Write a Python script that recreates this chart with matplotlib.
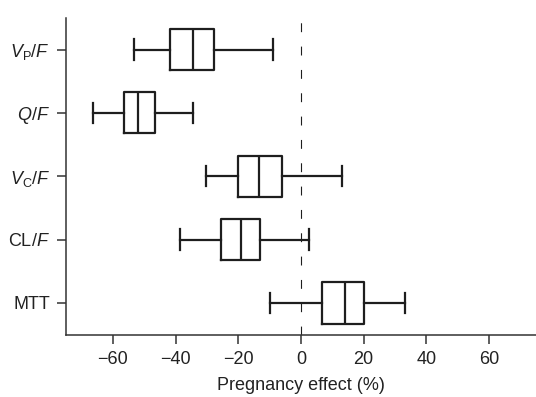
import matplotlib
matplotlib.use("Agg")
import matplotlib.pyplot as plt

plt.rcParams['font.family'] = ['Liberation Sans', 'DejaVu Sans']
plt.rcParams['mathtext.fontset'] = 'custom'
plt.rcParams['mathtext.rm'] = 'Liberation Sans'
plt.rcParams['mathtext.it'] = 'Liberation Sans:italic'
plt.rcParams['mathtext.bf'] = 'Liberation Sans:bold'

labels = [r'$V_{\mathrm{P}}/F$', r'$Q/F$', r'$V_{\mathrm{C}}/F$', r'CL/$F$', 'MTT']
whislo = [-53.3, -66.5, -30.2, -38.6, -9.8]
q1 = [-41.8, -56.4, -20.2, -25.4, 6.7]
med = [-34.6, -52.0, -13.3, -19.0, 14.1]
q3 = [-27.8, -46.6, -6.0, -13.1, 20.0]
whishi = [-9.0, -34.6, 13.0, 2.7, 33.3]
xticks = [-60, -40, -20, 0, 20, 40, 60]

fig = plt.figure(figsize=(5.36, 3.97), dpi=100)
ax = fig.add_axes([0.123, 0.157, 0.877, 0.798])

n = len(labels)
positions = list(range(n, 0, -1))
stats = []
for i in range(n):
    stats.append(dict(label=labels[i], whislo=whislo[i], q1=q1[i], med=med[i],
                      q3=q3[i], whishi=whishi[i], fliers=[]))

lw = 1.6
col = '#1e1e1e'
ax.bxp(stats, positions=positions, vert=False, widths=0.65, showfliers=False,
       boxprops=dict(color=col, linewidth=lw),
       medianprops=dict(color=col, linewidth=lw),
       whiskerprops=dict(color=col, linewidth=lw),
       capprops=dict(color=col, linewidth=lw),
       capwidths=0.32)

ax.axvline(0, color=col, linestyle=(0, (8, 13)), linewidth=0.8, zorder=0)

ax.set_xlim(-75, 75)
ax.set_ylim(0.5, 5.5)
ax.set_xticks(xticks)
ax.set_xticklabels([f'\u2212{abs(t)}' if t < 0 else str(t) for t in xticks])
ax.set_yticks(positions)
ax.set_yticklabels(labels)
ax.tick_params(axis='both', labelsize=13, length=6.5, width=1.1, color='#333333',
               labelcolor='#222222', pad=5)
for s in ['top', 'right']:
    ax.spines[s].set_visible(False)
for s in ['left', 'bottom']:
    ax.spines[s].set_linewidth(1.1)
    ax.spines[s].set_color('#333333')
ax.set_xlabel('Pregnancy effect (%)', fontsize=13, color='#222222', labelpad=7)

fig.savefig('out.png', dpi=100)
